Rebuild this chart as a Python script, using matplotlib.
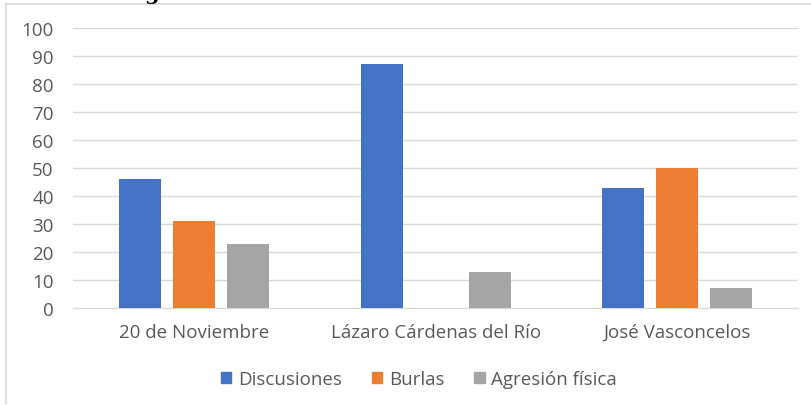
import matplotlib.pyplot as plt
import matplotlib.patches as mpatches
import numpy as np

# Datos
escuelas = ["20 de Noviembre", "Lázaro Cárdenas del Río", "José Vasconcelos"]
series = ["Discusiones", "Burlas", "Agresión física"]
discusiones = [46, 87, 43]
burlas = [31, 0, 50]
agresion = [23, 13, 7]
colores = ["#4472C4", "#ED7D31", "#A5A5A5"]

plt.rcParams['font.family'] = ['Open Sans', 'DejaVu Sans']
gris_texto = "#595959"

fig = plt.figure(figsize=(8.12, 4.06), dpi=100)
ax = fig.add_axes([0.090, 0.239, 0.893, 0.690])

x = np.arange(len(escuelas))
ancho = 0.174
paso = 0.223
for i, (vals, nombre) in enumerate(zip([discusiones, burlas, agresion], series)):
    ax.bar(x + (i - 1) * paso, vals, width=ancho, color=colores[i], label=nombre, zorder=3)

ax.set_xlim(-0.5, len(escuelas) - 0.5)
ax.set_ylim(0, 100)
ax.set_yticks(range(0, 101, 10))
ax.set_xticks(x)
ax.set_xticklabels(escuelas)
ax.tick_params(axis="y", length=0, pad=14, labelsize=13.5, labelcolor=gris_texto)
ax.tick_params(axis="x", length=0, pad=11, labelsize=13.5, labelcolor=gris_texto)
ax.grid(axis="y", color="#D9D9D9", linewidth=1, zorder=0)
for lado in ["top", "right", "left"]:
    ax.spines[lado].set_visible(False)
ax.spines["bottom"].set_color("#D9D9D9")

handles = [mpatches.Patch(color=c, label=s) for c, s in zip(colores, series)]
fig.legend(handles=handles, loc="center", bbox_to_anchor=(0.516, 1 - 380 / 406), ncol=3,
           frameon=False, fontsize=13.5, labelcolor=gris_texto, handlelength=0.55,
           handleheight=0.55, handletextpad=0.35, columnspacing=1.6)

# Borde del área del gráfico
fig.add_artist(plt.Line2D([6 / 812, 6 / 812], [1 - 5 / 406, 1 - 404 / 406], color="#D9D9D9", linewidth=1.2))
fig.add_artist(plt.Line2D([6 / 812, 1], [1 - 5 / 406, 1 - 5 / 406], color="#D9D9D9", linewidth=1.2))

# Resto del título del documento, recortado arriba
fig.text(151 / 812, 1 + 0.5 / 406, "g", fontsize=15, fontweight="bold", family="DejaVu Serif",
         ha="center", va="baseline", color="black")

fig.savefig("out.png", dpi=100)
